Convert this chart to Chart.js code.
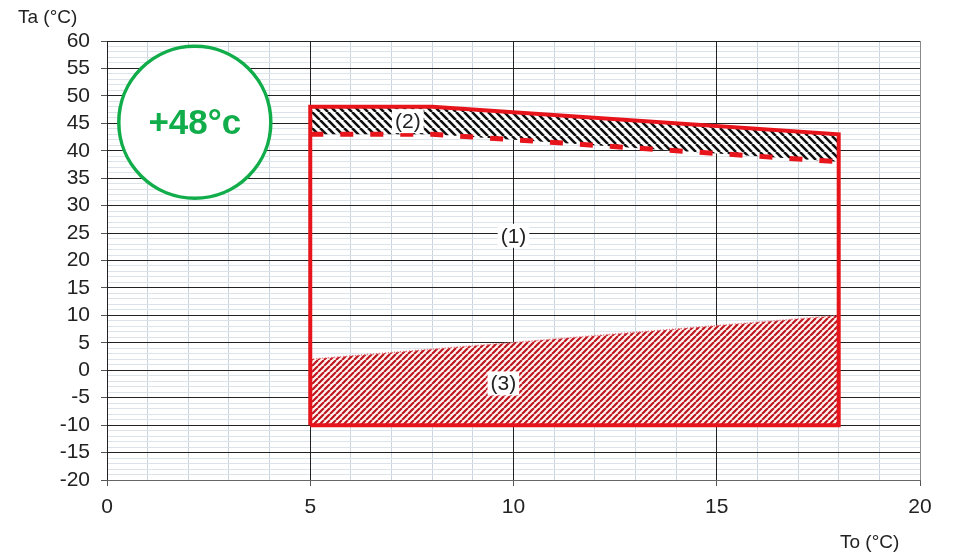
<!DOCTYPE html>
<html>
<head>
<meta charset="utf-8">
<script src="https://cdn.jsdelivr.net/npm/chart.js@4.4.1/dist/chart.umd.min.js"></script>
<style>
  html, body { margin: 0; padding: 0; background: #fff; }
  #wrap { width: 953px; height: 555px; }
</style>
</head>
<body>
<div id="wrap"><canvas id="chart" width="953" height="555"></canvas></div>
<script>
// Zone de fonctionnement : To (°C) en abscisse, Ta (°C) en ordonnée
const X_MIN = 0, X_MAX = 20;
const Y_MIN = -20, Y_MAX = 60;

// (1) contour de la zone de fonctionnement
const envX = [5, 5, 8, 18, 18, 5];
const envY = [-10, 48, 48, 43, -10, -10];

// limite basse de la zone (2) (trait pointillé)
const limX = [5, 8, 18];
const limY = [43, 43, 38];

// limite haute de la zone (3)
const lowX = [5, 18];
const lowY = [2, 10];

// étiquettes de zones
const zoneText = ['(1)', '(2)', '(3)'];
const zoneX = [10, 7.4, 9.75];
const zoneY = [24.5, 45.4, -2.4];

const badgeText = '+48°c';
const xTitle = 'To (°C)';
const yTitle = 'Ta (°C)';

const RED = '#e8141c';
const GREEN = '#12ad4b';
const MAJOR = '#222';

const pts = (xs, ys) => xs.map((x, i) => ({ x, y: ys[i] }));

function hatch(color, bg, size, lw, dir) {
  const c = document.createElement('canvas');
  c.width = c.height = size;
  const g = c.getContext('2d');
  if (bg) { g.fillStyle = bg; g.fillRect(0, 0, size, size); }
  g.strokeStyle = color;
  g.lineWidth = lw;
  g.beginPath();
  for (const o of [-size, 0, size]) {
    if (dir > 0) { g.moveTo(o, size); g.lineTo(o + size, 0); }
    else { g.moveTo(o, 0); g.lineTo(o + size, size); }
  }
  g.stroke();
  return g.createPattern(c, 'repeat');
}

const blackHatch = hatch('#111', '#fff', 8, 2.6, -1);
const redHatch = hatch('#bf1620', '#fff6f2', 6, 2.2, 1);

const isMajor = v => Math.round(v) % 5 === 0;
const align = p => Math.round(p - 0.5) + 0.5;

// les lignes principales passent au-dessus des lignes secondaires
const majorGrid = {
  id: 'majorGrid',
  beforeDatasetsDraw(chart) {
    const { ctx, chartArea: a, scales: { x, y } } = chart;
    ctx.save();
    ctx.lineWidth = 1;
    ctx.strokeStyle = MAJOR;
    ctx.beginPath();
    x.ticks.forEach(t => {
      if (!isMajor(t.value) || t.value === X_MAX) return;
      const p = align(x.getPixelForValue(t.value));
      ctx.moveTo(p, a.top); ctx.lineTo(p, a.bottom);
    });
    y.ticks.forEach(t => {
      if (!isMajor(t.value) || t.value === Y_MIN) return;
      const p = align(y.getPixelForValue(t.value));
      ctx.moveTo(a.left, p); ctx.lineTo(a.right, p);
    });
    ctx.stroke();
    ctx.restore();
  }
};

const zoneLabels = {
  id: 'zoneLabels',
  afterDatasetsDraw(chart) {
    const { ctx, scales: { x, y } } = chart;
    ctx.save();
    ctx.font = '21px "Liberation Sans", Arial, sans-serif';
    ctx.textAlign = 'center';
    ctx.textBaseline = 'middle';
    zoneText.forEach((t, i) => {
      const px = x.getPixelForValue(zoneX[i]);
      const py = y.getPixelForValue(zoneY[i]);
      const w = ctx.measureText(t).width;
      ctx.fillStyle = '#fff';
      ctx.fillRect(px - w / 2 - 3, py - 12, w + 6, 24);
      ctx.fillStyle = '#222';
      ctx.fillText(t, px, py + 1);
    });
    ctx.restore();
  }
};

const extras = {
  id: 'extras',
  afterDraw(chart) {
    const { ctx, scales: { x, y } } = chart;
    ctx.save();
    // pastille +48°c
    const cx = x.getPixelForValue(2.16), cy = y.getPixelForValue(45.2);
    ctx.beginPath();
    ctx.arc(cx, cy, 76, 0, Math.PI * 2);
    ctx.fillStyle = '#fff';
    ctx.fill();
    ctx.lineWidth = 3.5;
    ctx.strokeStyle = GREEN;
    ctx.stroke();
    ctx.fillStyle = GREEN;
    ctx.font = 'bold 35px "Liberation Sans", Arial, sans-serif';
    ctx.textAlign = 'center';
    ctx.textBaseline = 'middle';
    ctx.fillText(badgeText, cx, cy + 2);
    // titres des axes
    ctx.fillStyle = '#222';
    ctx.font = '19px "Liberation Sans", Arial, sans-serif';
    ctx.textAlign = 'left';
    ctx.textBaseline = 'middle';
    ctx.fillText(yTitle, 18, 18);
    ctx.fillText(xTitle, 840, 543);
    ctx.restore();
  }
};

new Chart(document.getElementById('chart'), {
  type: 'line',
  data: {
    datasets: [
      {
        data: pts(envX, envY),
        borderColor: RED, borderWidth: 4, fill: false,
        borderJoinStyle: 'miter', pointRadius: 0, tension: 0
      },
      {
        data: pts(limX, limY),
        borderColor: RED, borderWidth: 5, borderDash: [13, 17], fill: false,
        pointRadius: 0, tension: 0
      },
      {
        data: pts(lowX, lowY),
        borderColor: '#e0707a', borderWidth: 1.5, borderDash: [1, 2],
        fill: { value: -10 }, backgroundColor: redHatch,
        pointRadius: 0, tension: 0
      },
      {
        data: pts(envX.slice(1, 4), envY.slice(1, 4)),
        borderWidth: 0, borderColor: 'rgba(0,0,0,0)',
        fill: 1, backgroundColor: blackHatch,
        pointRadius: 0, tension: 0
      }
    ]
  },
  options: {
    responsive: false,
    animation: false,
    layout: { padding: { top: 41, right: 33, bottom: 0, left: 0 } },
    plugins: { legend: { display: false }, tooltip: { enabled: false } },
    scales: {
      x: {
        type: 'linear', min: X_MIN, max: X_MAX,
        afterFit(s) { s.height = 75; },
        border: { display: true, color: '#666', width: 1 },
        grid: {
          color: c => {
            const v = c.tick ? c.tick.value : 0;
            if (v === X_MAX) return '#8a8a8a';
            return isMajor(v) ? MAJOR : '#cbd5e0';
          },
          tickColor: c => isMajor(c.tick.value) ? '#555' : 'rgba(0,0,0,0)',
          tickLength: 6
        },
        ticks: {
          stepSize: 1, autoSkip: false, maxRotation: 0, padding: 9,
          color: '#222', font: { family: '"Liberation Sans", Arial, sans-serif', size: 21 },
          callback: v => isMajor(v) ? v : ''
        }
      },
      y: {
        min: Y_MIN, max: Y_MAX,
        afterFit(s) { s.width = 107; },
        border: { display: true, color: '#555', width: 1 },
        grid: {
          color: c => {
            const v = c.tick ? c.tick.value : 0;
            if (v === Y_MIN) return '#8a8a8a';
            return isMajor(v) ? MAJOR : '#dde3ea';
          },
          tickColor: c => isMajor(c.tick.value) ? '#555' : 'rgba(0,0,0,0)',
          tickLength: 6
        },
        ticks: {
          stepSize: 1, autoSkip: false, padding: 11,
          color: '#222', font: { family: '"Liberation Sans", Arial, sans-serif', size: 21 },
          callback: v => isMajor(v) ? v : ''
        }
      }
    }
  },
  plugins: [majorGrid, zoneLabels, extras]
});
</script>
</body>
</html>
